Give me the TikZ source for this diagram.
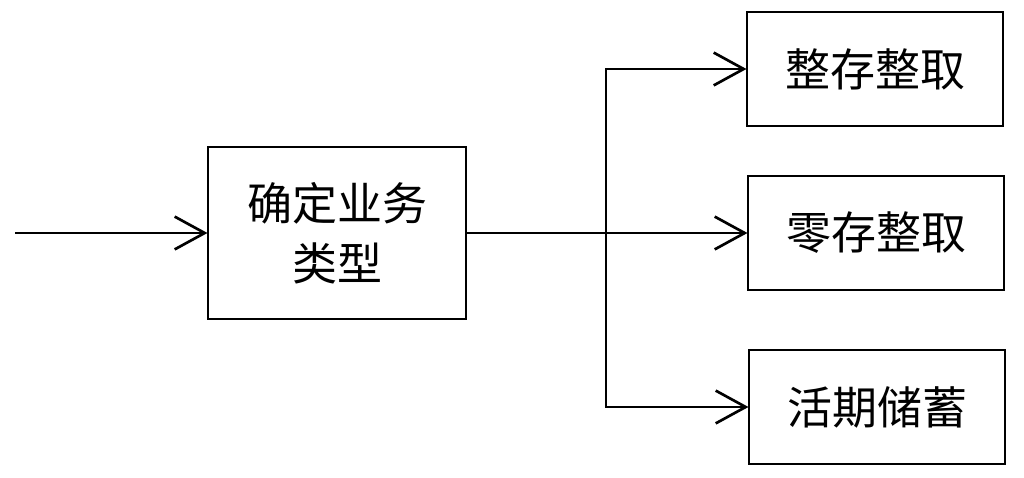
\documentclass[tikz,border=0pt]{standalone}
\usepackage{fontspec}
\newfontfamily\cjk{Noto Sans CJK SC}
\usetikzlibrary{arrows.meta}

\begin{document}
\begin{tikzpicture}[x=0.025cm, y=-0.025cm,
    box/.style={draw, line width=1.4pt, font=\cjk\fontsize{32}{43}\selectfont, align=center},
    bigbox/.style={box, minimum width=6.425cm, minimum height=4.3cm},
    smallbox/.style={box, minimum width=6.375cm, minimum height=2.85cm},
    flow/.style={line width=1.9pt, -{Straight Barb[length=0.75cm, width=0.82cm, line width=1.9pt]}}]
    \useasboundingbox (0,0) rectangle (1024,478);

    % Boxes
    \node[bigbox] (type) at (337,233) {确定业务\\类型};
    \node[smallbox] (fixed) at (875,69) {整存整取};
    \node[smallbox] (partial) at (876,233) {零存整取};
    \node[smallbox] (current) at (877,407) {活期储蓄};

    % Input arrow
    \coordinate (in) at (15,233);
    \draw[flow] (in) -- (type.west);

    % Branches
    \coordinate (split) at (606,233);
    \draw[line width=1.9pt] (type.east) -- (split);
    \draw[flow] (split) |- (fixed.west);
    \draw[flow] (split) -- (partial.west);
    \draw[flow] (split) |- (current.west);
\end{tikzpicture}
\end{document}
